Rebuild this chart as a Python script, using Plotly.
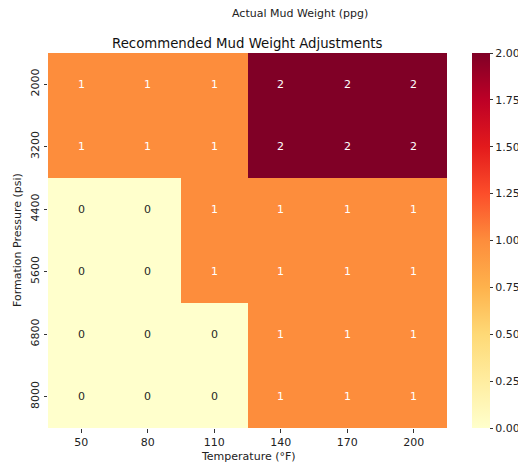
import plotly.graph_objects as go

temperatures = ["50", "80", "110", "140", "170", "200"]
pressures = ["2000", "3200", "4400", "5600", "6800", "8000"]
adjustments = [
    [1, 1, 1, 2, 2, 2],
    [1, 1, 1, 2, 2, 2],
    [0, 0, 1, 1, 1, 1],
    [0, 0, 1, 1, 1, 1],
    [0, 0, 0, 1, 1, 1],
    [0, 0, 0, 1, 1, 1],
]
cbar_ticks = [0, 0.25, 0.5, 0.75, 1.0, 1.25, 1.5, 1.75, 2.0]

ylorrd = [
    [0.0, "#ffffcc"], [0.125, "#ffeda0"], [0.25, "#fed976"], [0.375, "#feb24c"],
    [0.5, "#fd8d3c"], [0.625, "#fc4e2a"], [0.75, "#e31a1c"], [0.875, "#bd0026"],
    [1.0, "#800026"],
]

FONT = "DejaVu Sans"
FS = 11
OFF = 8  # default page body margin
W, H = 526 - OFF, 466 - OFF
# plot box in page pixels
PX0, PX1, PY0, PY1 = 48, 447, 53, 428
ML, MT = PX0 - OFF, PY0 - OFF
MR = 2
PW = W - ML - MR
PH = PY1 - PY0
MB = H - MT - PH
xi = list(range(len(temperatures)))
yi = list(range(len(pressures)))


def px(x):
    return (x - PX0) / PW


def py(y):
    return 1 - (y - PY0) / PH


fig = go.Figure(go.Heatmap(
    z=adjustments, x=xi, y=yi,
    colorscale=ylorrd, zmin=0, zmax=2,
    colorbar=dict(
        x=px(472), xanchor="left", y=0.5, yanchor="middle", len=1.0, lenmode="fraction",
        thickness=18, outlinewidth=0, xpad=0, ypad=0,
        tickvals=cbar_ticks, ticktext=[f"{v:.2f}" for v in cbar_ticks],
        ticks="outside", ticklen=3.5, tickcolor="#333", tickfont=dict(family=FONT, size=FS, color="#222"),
    ),
    hoverinfo="skip",
))

annotations = []
for i in yi:
    for j in xi:
        v = adjustments[i][j]
        annotations.append(dict(
            x=j, y=i, xref="x", yref="y", text=str(v), showarrow=False,
            font=dict(family=FONT, size=FS, color="white" if v >= 1 else "#262626"),
        ))

annotations.append(dict(
    x=px(300), y=py(14), xref="paper", yref="paper",
    xanchor="center", yanchor="middle", text="Actual Mud Weight (ppg)", showarrow=False,
    font=dict(family=FONT, size=FS, color="#222"),
))
annotations.append(dict(
    x=px(247.5), y=py(43), xref="paper", yref="paper",
    xanchor="center", yanchor="middle", text="Recommended Mud Weight Adjustments", showarrow=False,
    font=dict(family=FONT, size=13.3, color="#111"),
))
annotations.append(dict(
    x=px(248), y=py(457), xref="paper", yref="paper",
    xanchor="center", yanchor="middle", text="Temperature (°F)", showarrow=False,
    font=dict(family=FONT, size=FS, color="#222"),
))
annotations.append(dict(
    x=px(18), y=py(240), xref="paper", yref="paper",
    xanchor="center", yanchor="middle", text="Formation Pressure (psi)", showarrow=False,
    textangle=-90, font=dict(family=FONT, size=FS, color="#222"),
))

fig.update_layout(
    width=W, height=H,
    margin=dict(l=ML, r=MR, t=MT, b=MB, autoexpand=False),
    paper_bgcolor="white", plot_bgcolor="white",
    font=dict(family=FONT, size=FS, color="#222"),
    annotations=annotations,
    xaxis=dict(
        domain=[0, px(PX1)], automargin=False,
        range=[-0.5, 5.5], tickvals=xi, ticktext=temperatures,
        ticks="outside", ticklen=3.5, tickcolor="#333", showgrid=False, zeroline=False,
        tickfont=dict(family=FONT, size=FS, color="#222"), showline=False,
    ),
    yaxis=dict(
        automargin=False,
        range=[5.5, -0.5], tickvals=yi, ticktext=pressures,
        ticks="outside", ticklen=3.5, tickcolor="#333",
        tickangle=-90, showgrid=False, zeroline=False,
        tickfont=dict(family=FONT, size=FS, color="#222"), showline=False,
    ),
)

fig.write_html("out.html")
